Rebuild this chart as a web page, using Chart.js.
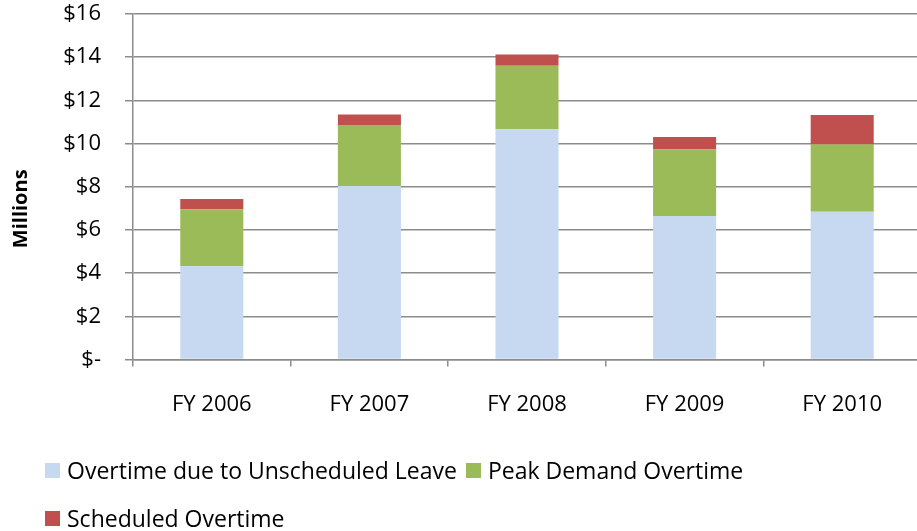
<!DOCTYPE html>
<html>
<head>
<meta charset="utf-8">
<script src="https://cdn.jsdelivr.net/npm/chart.js@4.4.1/dist/chart.umd.min.js"></script>
<style>
  html, body { margin: 0; padding: 0; background: #fff; overflow: hidden; }
  #wrap { position: relative; width: 921px; height: 531px; }
  #legend { position: absolute; left: 45px; top: 456px; width: 780px;
            font-family: "Open Sans", sans-serif; font-size: 23px; color: #000; }
  .row { display: flex; align-items: center; height: 28px; margin-bottom: 20px; white-space: nowrap; }
  .box { width: 15px; height: 15px; margin-right: 7px; flex: none; }
  .item { display: flex; align-items: center; margin-right: 9px; }
</style>
</head>
<body>
<div id="wrap">
  <canvas id="chart"></canvas>
  <div id="legend"></div>
</div>
<script>
// values, in millions
const categories = ['FY 2006', 'FY 2007', 'FY 2008', 'FY 2009', 'FY 2010'];
const unscheduledLeave = [4.32, 8.04, 10.67, 6.65, 6.84];
const peakDemand = [2.64, 2.82, 2.93, 3.08, 3.12];
const scheduled = [0.47, 0.49, 0.53, 0.57, 1.36];
const yTickLabels = ['$-', '$2', '$4', '$6', '$8', '$10', '$12', '$14', '$16'];

const seriesNames = ['Overtime due to Unscheduled Leave', 'Peak Demand Overtime', 'Scheduled Overtime'];
const seriesColors = ['#c6d9f1', '#9bbb59', '#c0504d'];

const gridColor = '#8c8c8c';
const font = { family: '"Open Sans", sans-serif', size: 22 };

// y axis title drawn by hand so it can sit a bit below the middle, like the original
const yTitle = {
  id: 'yTitle',
  afterDraw(chart) {
    const ctx = chart.ctx;
    const area = chart.chartArea;
    ctx.save();
    ctx.translate(21, (area.top + area.bottom) / 2 + 22);
    ctx.rotate(-Math.PI / 2);
    ctx.font = 'bold 20px "Open Sans", sans-serif';
    ctx.fillStyle = '#000';
    ctx.textAlign = 'center';
    ctx.textBaseline = 'middle';
    ctx.fillText('Millions', 0, 0);
    ctx.restore();
  }
};

const chart = new Chart(document.getElementById('chart'), {
  type: 'bar',
  data: {
    labels: categories,
    datasets: [
      { label: seriesNames[0], data: unscheduledLeave, backgroundColor: seriesColors[0] },
      { label: seriesNames[1], data: peakDemand, backgroundColor: seriesColors[1] },
      { label: seriesNames[2], data: scheduled, backgroundColor: seriesColors[2] }
    ]
  },
  options: {
    responsive: true,
    maintainAspectRatio: false,
    devicePixelRatio: 1,
    animation: false,
    layout: { padding: { top: 14, right: 0, bottom: 88, left: 0 } },
    datasets: { bar: { barPercentage: 0.4, categoryPercentage: 1.0, borderWidth: 0 } },
    plugins: {
      legend: { display: false },
      tooltip: { enabled: false }
    },
    scales: {
      x: {
        stacked: true,
        grid: { drawOnChartArea: false, drawTicks: true, tickLength: 7, color: gridColor, lineWidth: 1.5, offset: true },
        border: { color: gridColor, width: 1.5 },
        ticks: { color: '#000', font: font, padding: 25, maxRotation: 0 }
      },
      y: {
        stacked: true,
        min: 0,
        max: 16,
        afterFit(scale) {
          scale.width = 133;
          scale.paddingTop = 0;
          scale.paddingBottom = 0;
        },
        grid: { color: gridColor, lineWidth: 1.5, tickLength: 8 },
        border: { color: gridColor, width: 1.5 },
        ticks: {
          stepSize: 2,
          color: '#000',
          font: font,
          padding: 24,
          callback: (v, i) => yTickLabels[i]
        }
      }
    }
  },
  plugins: [yTitle]
});

// legend as html so it wraps onto two rows like the original
const rows = [[0, 1], [2]];
const legend = document.getElementById('legend');
rows.forEach(r => {
  const row = document.createElement('div');
  row.className = 'row';
  r.forEach(i => {
    const item = document.createElement('div');
    item.className = 'item';
    item.innerHTML = '<span class="box" style="background:' + seriesColors[i] + '"></span>' + seriesNames[i];
    row.appendChild(item);
  });
  legend.appendChild(row);
});
</script>
</body>
</html>
